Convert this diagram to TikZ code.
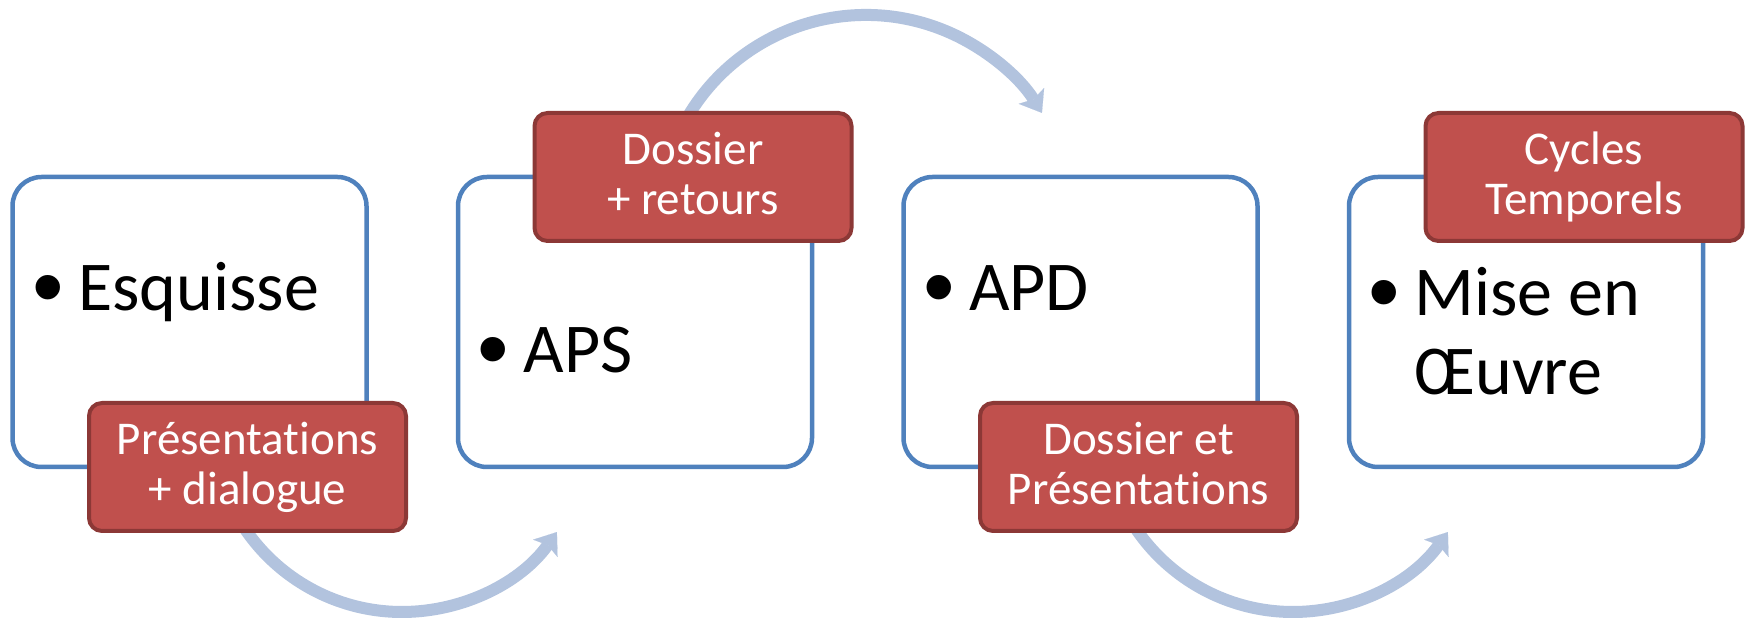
\documentclass[tikz,border=0pt]{standalone}
\usepackage{fontspec}
\setmainfont[Ligatures=NoCommon,RawFeature=-liga]{Carlito}
\newfontfamily\bulfont{Liberation Sans}
\usetikzlibrary{arrows.meta}
\definecolor{boxblue}{RGB}{79,129,189}
\definecolor{tagred}{RGB}{192,80,77}
\definecolor{tagborder}{RGB}{140,56,54}
\definecolor{flowblue}{RGB}{178,195,222}
\pgfdeclarelayer{bg}
\pgfsetlayers{bg,main}
\tikzset{
 stagebox/.style={draw=boxblue, line width=4.5pt, fill=white, rounded corners=29pt, minimum width=354pt, minimum height=290pt, inner sep=0pt},
 tagbox/.style={draw=tagborder, line width=4pt, fill=tagred, rounded corners=13pt, minimum width=317pt, minimum height=128pt, inner sep=0pt, text=white, font=\fontsize{47}{50}\selectfont, align=center},
 stagetext/.style={anchor=base west, inner sep=0pt, font=\fontsize{70}{79}\selectfont},
 flow/.style={draw=flowblue, line width=12pt, -{Stealth[length=20pt,width=30pt,inset=4pt,line width=0.1pt]}},
}
\newcommand{\bul}{\makebox[42.25pt][l]{\hspace{-3.5pt}\raisebox{-6.5pt}{\fontsize{90}{90}\bulfont •}}}
\newcommand{\tp}{\rule{0pt}{36pt}}
\newcommand{\bt}{\rule[-10pt]{0pt}{10pt}}
\begin{document}
\begin{tikzpicture}[x=1pt,y=1pt]
\useasboundingbox (0,0) rectangle (1748,623);
% stage boxes
\node[stagebox] (s1) at (189.5,301) {};
\node[stagebox] (s2) at (635,301) {};
\node[stagebox] (s3) at (1080.5,301) {};
\node[stagebox] (s4) at (1526,301) {};
% stage texts
\node[stagetext] (t1) at (35.75,312) {\bul Esquisse};
\node[stagetext] (t2) at (481.25,250) {\bul APS};
\node[stagetext] (t3) at (926.75,312) {\bul APD};
\node[stagetext] (t4) at (1372.25,307) {\bul Mise en};
\node[stagetext] (t4b) at (1414.5,228) {Œuvre};
% tags
\node[tagbox] (r1) at (247.5,156) {\tp Présentations\\+ dialogue\bt};
\node[tagbox] (r2) at (693,446) {\tp Dossier\\+ retours\bt};
\node[tagbox] (r3) at (1138.5,156) {\tp Dossier et\\Présentations\bt};
\node[tagbox] (r4) at (1584,446) {\tp Cycles\\Temporels\bt};
% flow arrows
\begin{pgfonlayer}{bg}
\draw[flow] ([shift={(-10,16)}]r1.south) arc[start angle=-150, end angle=-35.4, radius=190];
\draw[flow] ([shift={(-14.6,-23.5)}]r2.north) arc[start angle=155, end angle=31.8, radius=207];
\draw[flow] ([shift={(-10,16)}]r3.south) arc[start angle=-150, end angle=-35.4, radius=190];
\end{pgfonlayer}
\end{tikzpicture}
\end{document}
